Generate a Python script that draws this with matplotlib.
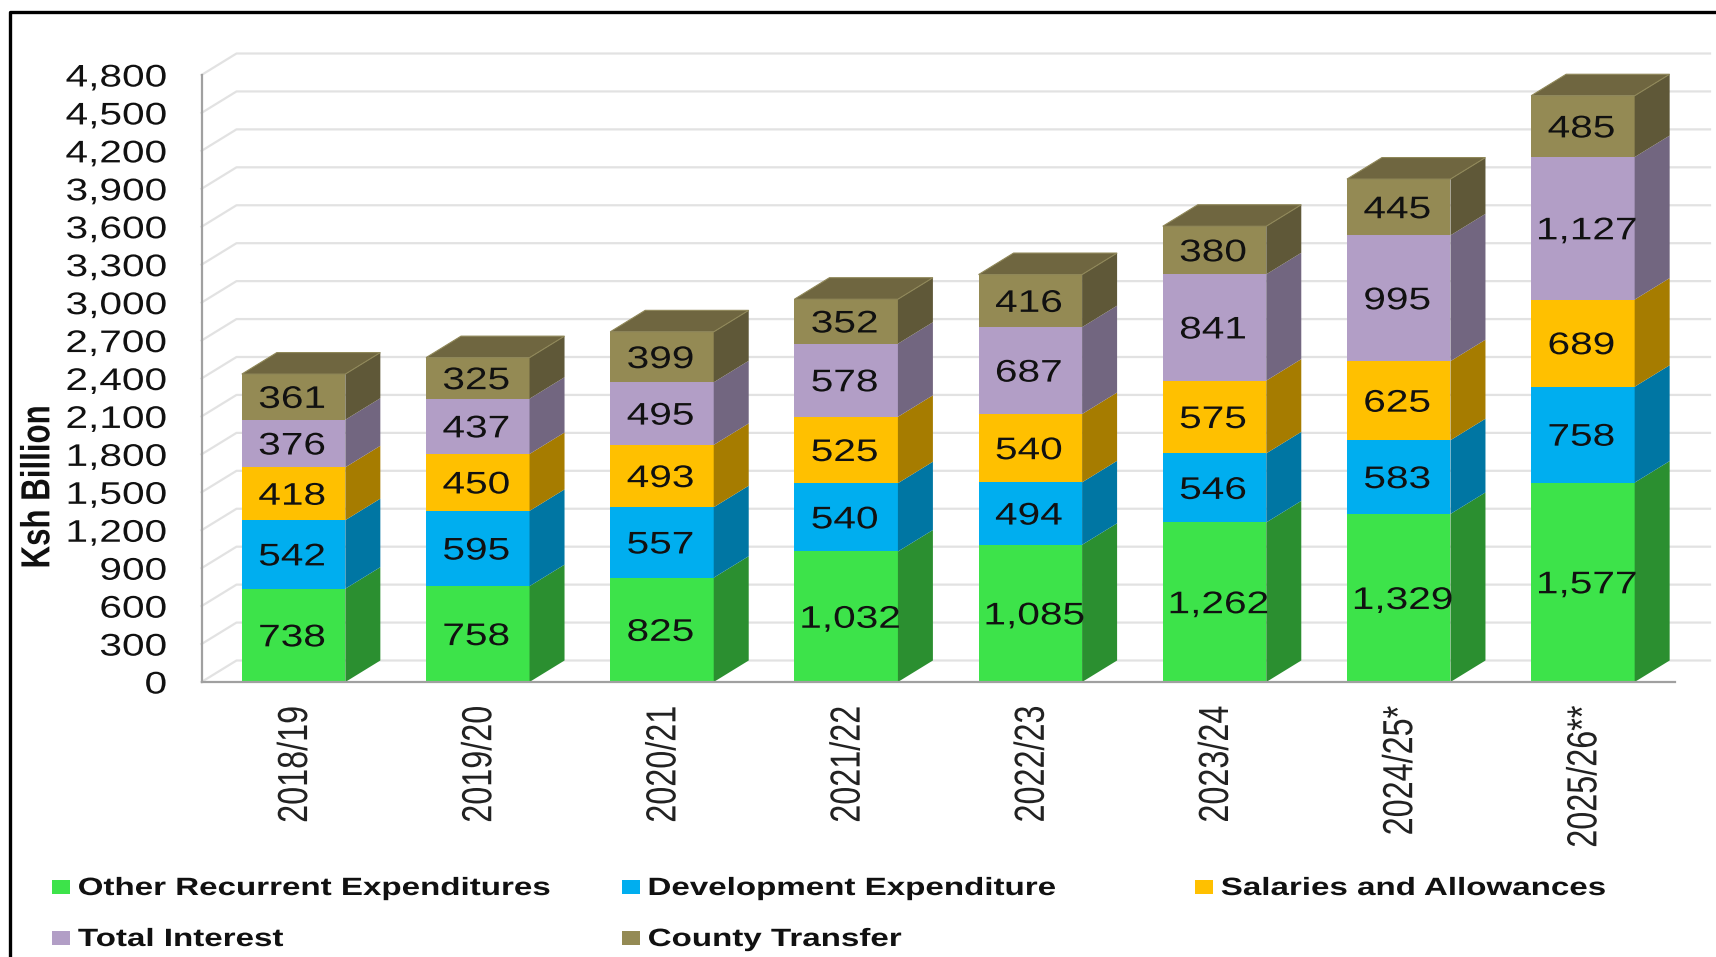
import matplotlib
matplotlib.use('Agg')
import matplotlib.pyplot as plt
from matplotlib.patches import Polygon, Rectangle
from matplotlib.lines import Line2D
from matplotlib.patheffects import AbstractPathEffect
from matplotlib.transforms import Affine2D, ScaledTranslation

# dados
anos = ['2018/19', '2019/20', '2020/21', '2021/22', '2022/23', '2023/24', '2024/25*', '2025/26**']
outros = [738, 758, 825, 1032, 1085, 1262, 1329, 1577]
desenvolvimento = [542, 595, 557, 540, 494, 546, 583, 758]
salarios = [418, 450, 493, 525, 540, 575, 625, 689]
juros = [376, 437, 495, 578, 687, 841, 995, 1127]
condados = [361, 325, 399, 352, 416, 380, 445, 485]
series = [outros, desenvolvimento, salarios, juros, condados]
nomes = ['Other Recurrent Expenditures', 'Development Expenditure', 'Salaries and Allowances',
         'Total Interest', 'County Transfer']
y_ticks = list(range(0, 5100, 300))

cor_frente = ['#3DE34A', '#00AEEF', '#FFC000', '#B29EC6', '#948A54']
cor_lado = ['#2B8F30', '#0076A3', '#A67C00', '#726680', '#5F5838']
cor_topo = '#6F6640'

W, H = 1716, 957
fonte = 'Liberation Sans'
larg_eixo = 1473.5


# o original foi esticado na horizontal, entao o texto tambem precisa ser
class Estica(AbstractPathEffect):
    def __init__(self, s=1.3, ancora='centro'):
        super().__init__()
        self.s = s
        self.ancora = ancora

    def draw_path(self, renderer, gc, tpath, affine, rgbFace=None):
        caixa = tpath.get_extents(affine)
        cx = {'centro': (caixa.x0 + caixa.x1) / 2, 'esq': caixa.x0, 'dir': caixa.x1}[self.ancora]
        t = affine + Affine2D().translate(-cx, 0).scale(self.s, 1).translate(cx, 0)
        renderer.draw_path(gc, tpath, t, rgbFace)


fig = plt.figure(figsize=(W / 100, H / 100), dpi=100)
ax = fig.add_axes([201.5 / W, (H - 682) / H, larg_eixo / W, 607 / H])
ax.set_xlim(-0.5, 7.5)
ax.set_ylim(0, 4800)

# profundidade do efeito 3D em unidades dos dados
dx = 35 / (larg_eixo / 8)
dy = 21.5 / (607 / 4800)
largura = 103.5 / (larg_eixo / 8)

# deslocamento dos rotulos das barras, em pontos
rotulo_trans = ax.transData + ScaledTranslation(-1.5 / 100, -3 / 100, fig.dpi_scale_trans)

# paredes do grafico
for v in y_ticks:
    ax.plot([-0.5, -0.5 + dx, 7.5 + dx], [v, v + dy, v + dy], color='#e2e2e2', lw=1.6,
            clip_on=False, zorder=1)

# barras
for i in range(len(anos)):
    x0 = i - largura / 2
    x1 = i + largura / 2
    base = 0
    for s in range(len(series)):
        v = series[s][i]
        topo = base + v
        ax.add_patch(Polygon([(x0, base), (x1, base), (x1, topo), (x0, topo)], closed=True,
                             fc=cor_frente[s], ec='none', clip_on=False, zorder=3))
        ax.add_patch(Polygon([(x1, base), (x1 + dx, base + dy), (x1 + dx, topo + dy), (x1, topo)],
                             closed=True, fc=cor_lado[s], ec='none', clip_on=False, zorder=3))
        deslocamento = 0.03 if v >= 1000 else 0
        ax.text(i + deslocamento, base + v / 2, f'{v:,}', ha='center', va='center', fontsize=22.5,
                family=fonte, color='#111111', zorder=5, path_effects=[Estica()],
                transform=rotulo_trans)
        base = topo
    ax.add_patch(Polygon([(x0, base), (x1, base), (x1 + dx, base + dy), (x0 + dx, base + dy)],
                         closed=True, fc=cor_topo, ec='#8f8758', lw=0.8, clip_on=False, zorder=4))

# eixos
for lado in ['top', 'right']:
    ax.spines[lado].set_visible(False)
for lado in ['left', 'bottom']:
    ax.spines[lado].set_color('#a0a0a0')
    ax.spines[lado].set_linewidth(1.6)
    ax.spines[lado].set_zorder(4)

ax.set_yticks(y_ticks)
ax.set_yticklabels([f'{v:,}' for v in y_ticks], fontsize=22.5, family=fonte, color='#111111',
                   path_effects=[Estica(ancora='dir')])
ax.tick_params(axis='y', length=0, pad=25)
ax.set_xticks(range(len(anos)))
ax.set_xticklabels(anos, rotation=90, fontsize=23.3, family=fonte, color='#222222',
                   path_effects=[Estica()])
ax.tick_params(axis='x', length=0, pad=17)
for rotulo in ax.get_xticklabels():
    rotulo.set_transform(rotulo.get_transform() + ScaledTranslation(2 / 100, 0, fig.dpi_scale_trans))
fig.text(38 / W, 1 - 487 / H, 'Ksh Billion', rotation=90, ha='center', va='center', fontsize=22.5,
         family=fonte, fontweight='bold', color='#111111', path_effects=[Estica()])

# legenda manual, as colunas do original nao sao regulares
pos_legenda = [(52, 887), (622, 887), (1195, 887), (52, 938), (622, 938)]
for k in range(len(nomes)):
    mx, my = pos_legenda[k]
    fig.add_artist(Rectangle((mx / W, 1 - (my + 7) / H), 18 / W, 14 / H, fc=cor_frente[k], ec='none',
                             transform=fig.transFigure))
    fig.text((mx + 26) / W, 1 - (my + 1) / H, nomes[k], ha='left', va='center', fontsize=18,
             family=fonte, fontweight='bold', color='#111111', path_effects=[Estica(1.325, 'esq')])

# moldura preta
fig.add_artist(Line2D([9.5 / W, 9.5 / W, 1], [0, 1 - 12 / H, 1 - 12 / H], color='black', lw=2.4,
                      transform=fig.transFigure))

fig.savefig('out.png', dpi=100)
